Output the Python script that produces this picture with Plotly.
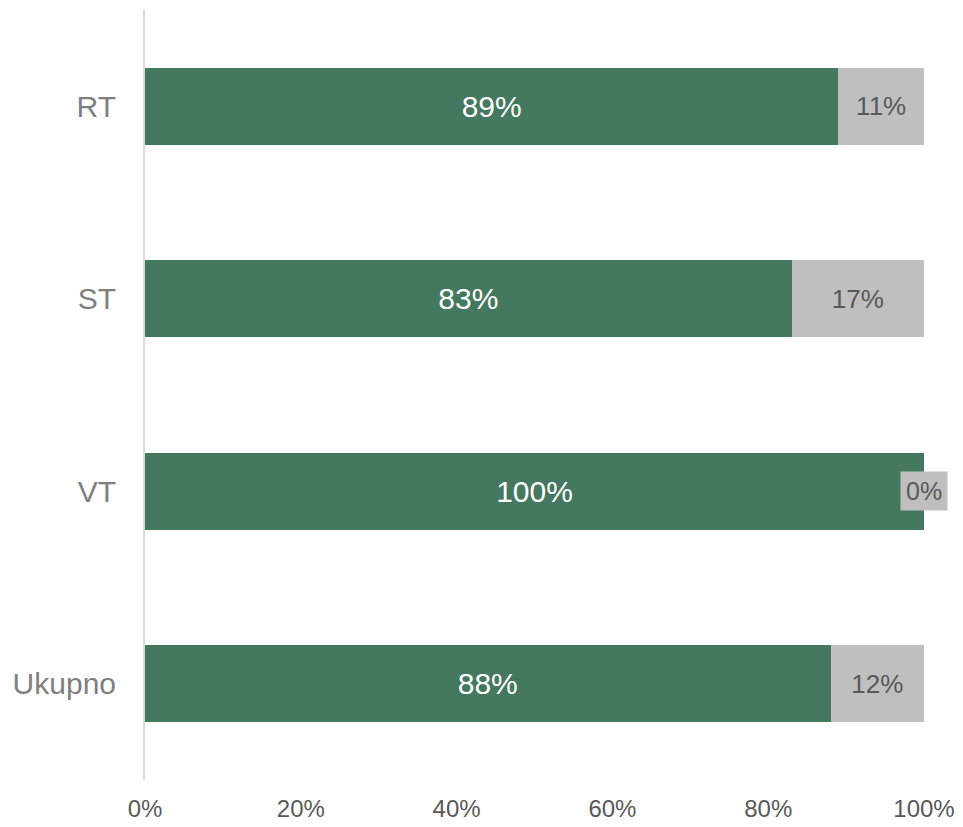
import plotly.graph_objects as go

categories = ["RT", "ST", "VT", "Ukupno"]
share_yes = [89, 83, 100, 88]
share_no = [11, 17, 0, 12]
tick_vals = [0, 20, 40, 60, 80, 100]
tick_text = ["0%", "20%", "40%", "60%", "80%", "100%"]

GREEN = "#44785F"
GREY = "#BFBFBF"
FONT = "Liberation Sans, Arial, sans-serif"

fig = go.Figure()
fig.add_trace(go.Bar(
    y=categories, x=share_yes, orientation="h",
    marker=dict(color=GREEN, line=dict(width=0)),
    text=[f"{v}%" for v in share_yes], textposition="inside",
    insidetextanchor="middle",
    textfont=dict(color="white", size=30, family=FONT),
    hoverinfo="skip",
))
fig.add_trace(go.Bar(
    y=categories, x=share_no, orientation="h",
    marker=dict(color=GREY, line=dict(width=0)),
    text=[f"{v}%" if v > 0 else "" for v in share_no], textposition="inside",
    insidetextanchor="middle",
    textfont=dict(color="#595959", size=26, family=FONT),
    hoverinfo="skip",
))

for c, a, b in zip(categories, share_yes, share_no):
    if b == 0:
        fig.add_annotation(
            x=a + b, y=c, text=f"{b}%", showarrow=False,
            xanchor="center", yanchor="middle",
            bgcolor=GREY, borderpad=5,
            font=dict(color="#595959", size=25, family=FONT),
        )

fig.update_layout(
    barmode="stack", bargap=0.6,
    width=963, height=827,
    margin=dict(l=137, r=47, t=2, b=55),
    plot_bgcolor="white", paper_bgcolor="white",
    showlegend=False,
)
fig.update_xaxes(
    range=[0, 100], tickvals=tick_vals, ticktext=tick_text,
    showgrid=False, zeroline=False, showline=False,
    tickfont=dict(size=24, color="#595959", family=FONT),
    ticks="", fixedrange=True, automargin=False, ticklabelstandoff=12,
)
fig.update_yaxes(
    autorange="reversed", showgrid=False, zeroline=False,
    showline=True, linecolor="#D9D9D9", linewidth=2,
    ticks="", ticklabelstandoff=21, automargin=False,
    tickfont=dict(size=30, color="#7F7F7F", family=FONT),
)

fig.write_html("out.html")
